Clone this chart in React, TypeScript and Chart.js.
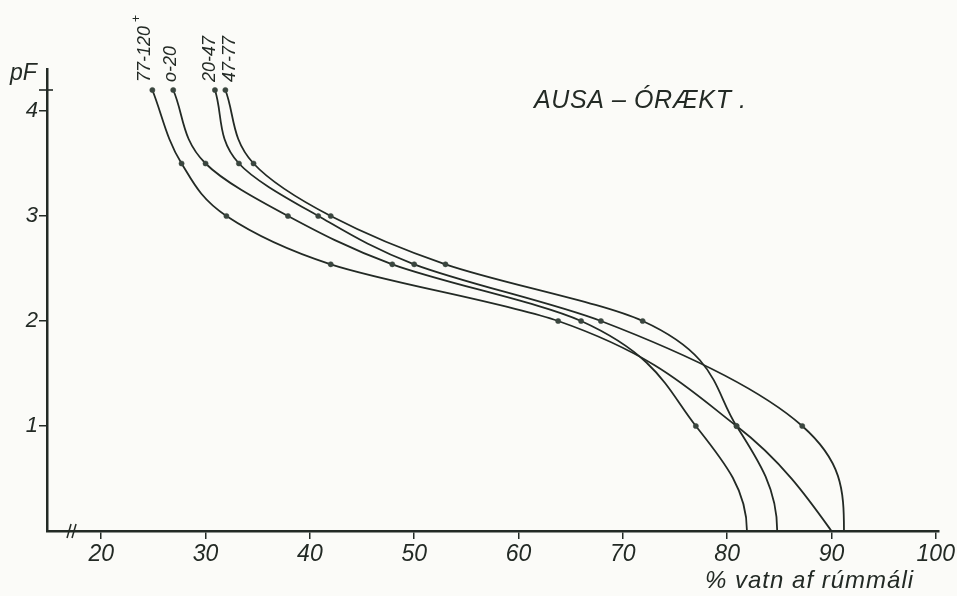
import React, { useEffect, useRef } from 'react';
import { Chart, registerables } from 'chart.js';

Chart.register(...registerables);

// pF levels at which water content was measured (top of curve to bottom)
const pFLevels = [4.2, 3.5, 3.0, 2.54, 2.0, 1.0, 0];

// depth layers (cm) – labels written above each curve
const depthLabels = ['77-120', 'o-20', '20-47', '47-77'];
const depthSuperscripts = ['+', '', '', ''];

// % water by volume at each pF level
const water77_120 = [24.9, 27.7, 32.0, 42.0, 63.8, 80.9, 90.0];
const water0_20 = [26.9, 30.0, 37.9, 47.9, 66.0, 77.0, 81.9];
const water20_47 = [30.9, 33.2, 40.8, 50.0, 67.9, 87.2, 91.2];
const water47_77 = [31.9, 34.6, 42.0, 53.0, 71.9, 80.9, 84.8];

const xTickValues = [20, 30, 40, 50, 60, 70, 80, 90, 100];
const yTickValues = [1, 2, 3, 4];
const wiltingPF = 4.2;
const axisBreakValue = 17.2;

const chartTitle = 'AUSA – ÓRÆKT .';
const yTitle = 'pF';
const xTitle = '% vatn af rúmmáli';

const INK = '#232a25';
const DOT = '#3a463f';
const PAPER = '#fbfbf8';
const FONT = "'Liberation Sans', 'DejaVu Sans', sans-serif";
const labelShift = [-7, -2, -5, 5];
// hand-drawn curves meet the axis steeply: how vertical the last stretch is
const endSteepness = [0.15, 0.5, 0.5, 0.5];

const seriesValues = [water77_120, water0_20, water20_47, water47_77];

const decorPlugin = {
  id: 'decor',
  beforeDraw(chart: any) {
    const { ctx, width, height } = chart;
    ctx.save();
    ctx.fillStyle = PAPER;
    ctx.fillRect(0, 0, width, height);
    ctx.restore();
  },
  beforeDatasetDraw(chart: any, args: any) {
    const meta = args.meta;
    const line = meta && meta.dataset;
    if (!line || !line.updateControlPoints) return;
    line.updateControlPoints(chart.chartArea, 'y');
    const pts = line.points || [];
    const n = pts.length;
    const k = endSteepness[args.index] || 0;
    if (n > 1 && k > 0) {
      const last = pts[n - 1];
      const prev = pts[n - 2];
      const dy = last.y - prev.y;
      const f = 1 - k * 2 > 0 ? 1 - k * 2 : 0;
      last.cp1x = last.x + (last.cp1x - last.x) * f;
      last.cp1y = last.y - dy * (0.25 + k * 0.3);
    }
  },
  afterDraw(chart: any) {
    const { ctx } = chart;
    const xs = chart.scales.x;
    const ys = chart.scales.y;
    const left = chart.chartArea.left;
    const bottom = chart.chartArea.bottom;
    ctx.save();
    ctx.fillStyle = INK;
    ctx.strokeStyle = INK;

    // pF axis title
    ctx.font = `italic 23px ${FONT}`;
    ctx.textAlign = 'left';
    ctx.textBaseline = 'alphabetic';
    ctx.fillText(yTitle, 10, 80);

    // chart title
    ctx.font = `italic 25px ${FONT}`;
    (ctx as any).letterSpacing = '0.6px';
    ctx.fillText(chartTitle, 534, 108);

    // x axis title
    ctx.font = `italic 24px ${FONT}`;
    (ctx as any).letterSpacing = '1px';
    ctx.fillText(xTitle, 705, 588);
    (ctx as any).letterSpacing = '0px';

    // cross tick at wilting point pF 4.2
    const yw = ys.getPixelForValue(wiltingPF);
    ctx.lineWidth = 1.6;
    ctx.beginPath();
    ctx.moveTo(left - 8, yw);
    ctx.lineTo(left + 6, yw);
    ctx.stroke();

    // axis break marks //
    const xb = xs.getPixelForValue(axisBreakValue);
    ctx.lineWidth = 1.5;
    for (const off of [-3, 2]) {
      ctx.beginPath();
      ctx.moveTo(xb + off - 2, bottom + 7);
      ctx.lineTo(xb + off + 2, bottom - 7);
      ctx.stroke();
    }

    // depth labels above each curve (rotated)
    chart.data.datasets.forEach((ds: any, i: number) => {
      const meta = chart.getDatasetMeta(i);
      const p = meta.data[0];
      if (!p) return;
      ctx.save();
      ctx.translate(p.x + labelShift[i], p.y - 8);
      ctx.rotate(-Math.PI / 2);
      ctx.font = `italic 18px ${FONT}`;
      ctx.textAlign = 'left';
      ctx.textBaseline = 'middle';
      ctx.fillText(depthLabels[i], 0, 0);
      if (depthSuperscripts[i]) {
        const w = ctx.measureText(depthLabels[i]).width;
        ctx.font = `12px ${FONT}`;
        ctx.fillText(depthSuperscripts[i], w + 4, -9);
      }
      ctx.restore();
    });
    ctx.restore();
  },
};

export default function App() {
  const ref = useRef<HTMLCanvasElement | null>(null);
  useEffect(() => {
    if (!ref.current) return;
    const chart = new Chart(ref.current, {
      type: 'scatter',
      data: {
        datasets: seriesValues.map((vals, i) => ({
          label: depthLabels[i],
          data: vals.map((v, j) => ({ x: v, y: pFLevels[j] })),
          showLine: true,
          borderColor: INK,
          borderWidth: 1.8,
          cubicInterpolationMode: 'monotone',
          indexAxis: 'y',
          fill: false,
          pointRadius: (c: any) => (c.raw && c.raw.y === 0 ? 0 : 2.6),
          pointBackgroundColor: DOT,
          pointBorderColor: DOT,
          pointBorderWidth: 0.5,
        })),
      },
      options: {
        responsive: false,
        animation: false,
        devicePixelRatio: 1,
        indexAxis: 'y',
        layout: { padding: { left: 0, top: 69, right: 12, bottom: 0 } },
        plugins: {
          legend: { display: false },
          tooltip: { enabled: false },
          title: { display: false },
        },
        scales: {
          x: {
            type: 'linear',
            min: 14.8,
            max: 100.3,
            afterBuildTicks: (s: any) => {
              s.ticks = xTickValues.map((v) => ({ value: v }));
            },
            afterFit: (s: any) => {
              s.height = 65;
            },
            grid: { drawOnChartArea: false, drawTicks: true, tickLength: 8, color: INK, lineWidth: 1.5 },
            border: { display: true, color: INK, width: 2.5 },
            ticks: {
              color: INK,
              font: { family: FONT, size: 23, style: 'italic' },
              padding: 2,
              maxRotation: 0,
              autoSkip: false,
            },
          },
          y: {
            type: 'linear',
            min: 0,
            max: 4.4,
            afterBuildTicks: (s: any) => {
              s.ticks = yTickValues.map((v) => ({ value: v }));
            },
            afterFit: (s: any) => {
              s.width = 47;
            },
            grid: { drawOnChartArea: false, drawTicks: true, tickLength: 8, color: INK, lineWidth: 1.5 },
            border: { display: true, color: INK, width: 2.5 },
            ticks: {
              color: INK,
              font: { family: FONT, size: 22, style: 'italic' },
              padding: 1,
              autoSkip: false,
            },
          },
        },
      },
      plugins: [decorPlugin],
    } as any);
    return () => chart.destroy();
  }, []);
  return (
    <div style={{ position: 'absolute', left: 0, top: 0, width: 957, height: 596 }}>
      <canvas ref={ref} width={957} height={596} style={{ width: 957, height: 596 }} />
    </div>
  );
}
